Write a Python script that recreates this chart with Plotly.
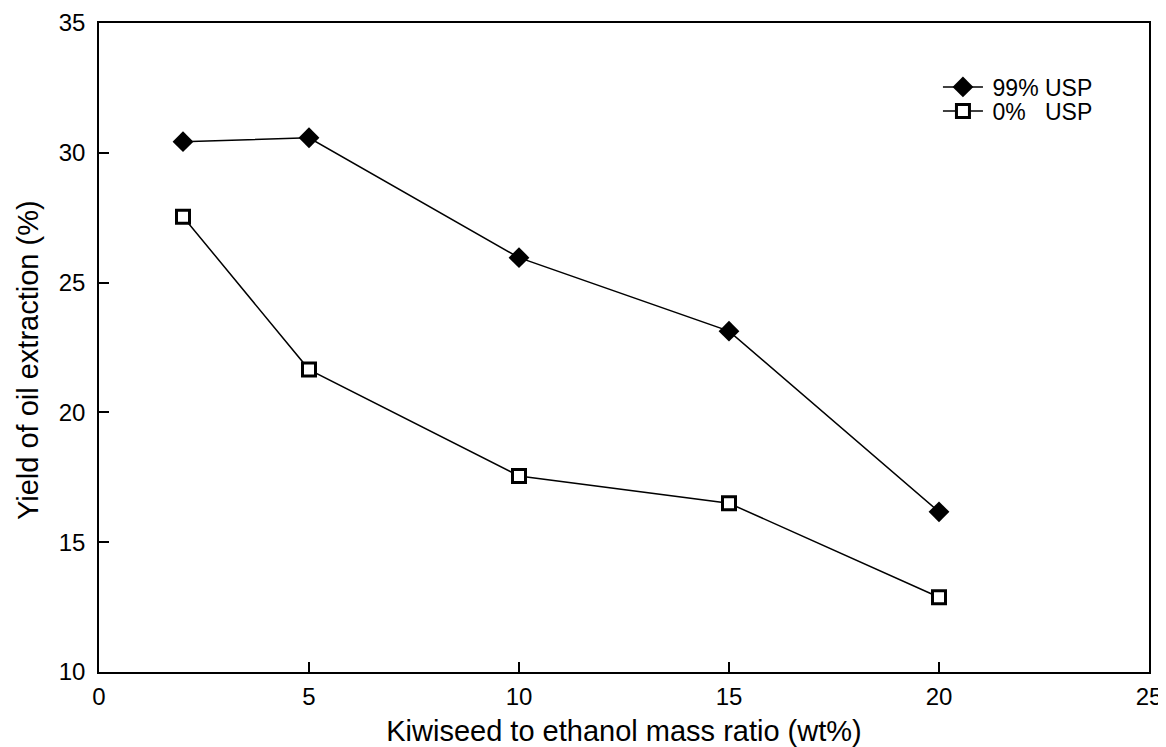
import plotly.graph_objects as go

x_vals = [2, 5, 10, 15, 20]
y_99 = [30.43, 30.58, 25.96, 23.13, 16.17]
y_0 = [27.54, 21.65, 17.55, 16.5, 12.88]
name_99 = "\u200999% USP"
name_0 = "\u20090%\u00a0\u00a0\u00a0USP"
x_ticks = [0, 5, 10, 15, 20, 25]
y_ticks = [10, 15, 20, 25, 30, 35]
x_title = "Kiwiseed to ethanol mass ratio (wt%)"
y_title = "Yield of oil extraction (%)"

FONT = "Liberation Sans, Arial"

fig = go.Figure()
fig.add_trace(go.Scatter(
    x=x_vals, y=y_99, mode="lines+markers", name=name_99, legend="legend",
    line=dict(color="black", width=1.5),
    marker=dict(symbol="diamond", size=16, color="black", line=dict(width=0)),
))
fig.add_trace(go.Scatter(
    x=x_vals, y=y_0, mode="lines+markers", name=name_0, legend="legend2",
    line=dict(color="black", width=1.5),
    marker=dict(symbol="square", size=13, color="white", line=dict(color="black", width=3)),
))

axis_common = dict(
    showline=True, linecolor="black", linewidth=1.5, mirror=True,
    ticks="inside", ticklen=10, tickwidth=1.5, tickcolor="black",
    showgrid=False, zeroline=False, automargin=False,
    ticklabeloverflow="allow",
    tickfont=dict(family=FONT, size=24, color="black"),
)

legend_common = dict(
    xanchor="left", yanchor="middle",
    font=dict(size=23, family=FONT, color="black"),
    bgcolor="rgba(0,0,0,0)", itemwidth=40,
)

fig.update_layout(
    width=1158, height=739,
    margin=dict(l=91, r=17, t=15, b=75),
    paper_bgcolor="white", plot_bgcolor="white",
    font=dict(family=FONT, color="black"),
    xaxis=dict(range=[0, 25], tickvals=x_ticks,
               title=dict(text=x_title, font=dict(size=29), standoff=14),
               ticklabelstandoff=2,
               **axis_common),
    yaxis=dict(range=[10, 35], tickvals=y_ticks,
               ticklabelstandoff=7,
               **axis_common),
    legend=dict(x=0.799, y=0.9015, **legend_common),
    legend2=dict(x=0.799, y=0.8644, **legend_common),
    showlegend=True,
    annotations=[dict(
        text=y_title, textangle=-90, showarrow=False,
        xref="paper", yref="paper", x=-0.0676, y=0.4807,
        xanchor="center", yanchor="middle",
        font=dict(size=29, family=FONT, color="black"),
    )],
)

fig.write_html("out.html")
